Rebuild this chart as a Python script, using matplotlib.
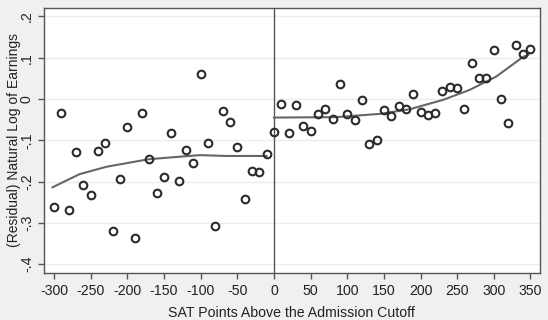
#!/usr/bin/env python
# -*- coding: utf-8 -*-

import matplotlib
matplotlib.use('Agg')
import matplotlib.pyplot as plt
import numpy as np

# Data__________________________________________________________________________

# binned means below the cutoff
x_left = [-300, -290, -280, -270, -260, -250, -240, -230, -220, -210,
          -200, -190, -180, -170, -160, -150, -140, -130, -120, -110,
          -100, -90, -80, -70, -60, -50, -40, -30, -20, -10]
y_left = [-0.262, -0.033, -0.268, -0.128, -0.208, -0.233, -0.125, -0.107, -0.319, -0.195,
          -0.067, -0.337, -0.033, -0.146, -0.228, -0.190, -0.082, -0.198, -0.123, -0.156,
          0.060, -0.106, -0.308, -0.029, -0.056, -0.116, -0.243, -0.174, -0.177, -0.134]

# binned means above the cutoff
x_right = [0, 10, 20, 30, 40, 50, 60, 70, 80, 90,
           100, 110, 120, 130, 140, 150, 160, 170, 180, 190,
           200, 210, 220, 230, 240, 250, 260, 270, 280, 290,
           300, 310, 320, 330, 340, 350]
y_right = [-0.079, -0.012, -0.082, -0.015, -0.065, -0.078, -0.037, -0.025, -0.048, 0.036,
           -0.037, -0.052, -0.003, -0.109, -0.099, -0.027, -0.040, -0.016, -0.024, 0.011,
           -0.032, -0.038, -0.034, 0.019, 0.030, 0.027, -0.025, 0.086, 0.052, 0.052,
           0.118, -0.001, -0.057, 0.131, 0.108, 0.122]

# fitted curves
fit_x_left = [-302, -265, -228, -171, -137, -101, -65, -10]
fit_y_left = [-0.214, -0.182, -0.164, -0.146, -0.141, -0.136, -0.138, -0.138]
fit_x_right = [0, 85, 145, 185, 231, 267, 303, 340, 347]
fit_y_right = [-0.045, -0.044, -0.036, -0.025, -0.002, 0.022, 0.054, 0.102, 0.107]

xticks = [-300, -250, -200, -150, -100, -50, 0, 50, 100, 150, 200, 250, 300, 350]
yticks = [-0.4, -0.3, -0.2, -0.1, 0.0, 0.1, 0.2]
ytick_labels = ['-.4', '-.3', '-.2', '-.1', '0', '.1', '.2']


# Functions_____________________________________________________________________

def main():
    plt.rcParams['font.family'] = ['Liberation Sans', 'DejaVu Sans']

    fig = plt.figure(figsize=(5.48, 3.2), dpi=100, facecolor='#eef0f1')
    ax = fig.add_axes([0.0797, 0.148, 0.9057, 0.826])
    ax.set_facecolor('white')

    # grid lines
    for v in yticks:
        ax.axhline(v, color='#ececec', lw=1.0, zorder=0)

    # cutoff line
    ax.axvline(0, color='#555555', lw=1.0, zorder=1)

    # fits
    ax.plot(fit_x_left, fit_y_left, color='#666666', lw=1.5, zorder=2)
    ax.plot(fit_x_right, fit_y_right, color='#666666', lw=1.5, zorder=2)

    # scatter
    for xs, ys in [(x_left, y_left), (x_right, y_right)]:
        ax.plot(xs, ys, 'o', ms=5.5, mfc='none', mec='#2b2b2b', mew=1.5,
                linestyle='none', zorder=3)

    ax.set_xlim(-314, 363)
    ax.set_ylim(-0.4206, 0.2196)

    ax.set_xticks(xticks)
    ax.set_xticklabels([str(t) for t in xticks], fontsize=10.2, color='#222222')
    ax.set_yticks(yticks)
    ax.set_yticklabels(ytick_labels, fontsize=10.2, color='#222222',
                       rotation=90, va='center')

    ax.tick_params(axis='x', direction='out', length=4, width=1,
                   color='#555555', pad=4)
    ax.tick_params(axis='y', direction='out', length=4, width=1,
                   color='#555555', pad=3)
    for s in ax.spines.values():
        s.set_color('#555555')
        s.set_linewidth(1.0)

    ax.set_xlabel('SAT Points Above the Admission Cutoff', fontsize=10.2,
                  color='#222222', labelpad=6)
    ax.set_ylabel('(Residual) Natural Log of Earnings', fontsize=10,
                  color='#222222', labelpad=-1)

    plt.savefig('out.png', format='png', dpi=100, facecolor=fig.get_facecolor())


# Main__________________________________________________________________________

if __name__ == "__main__":
    main()
